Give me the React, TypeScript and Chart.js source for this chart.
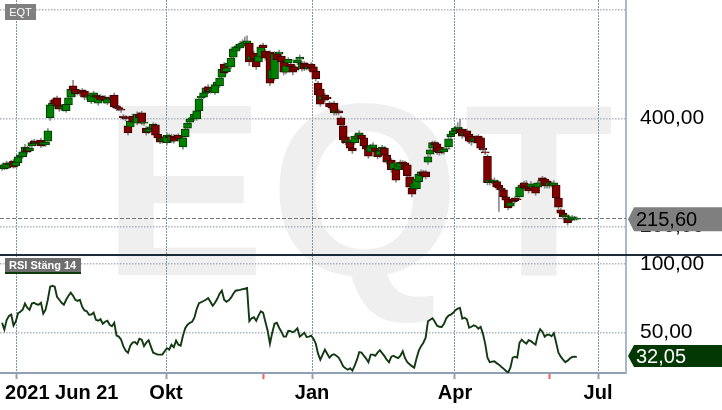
import React, { useEffect, useRef } from 'react';
import { Chart, registerables } from 'chart.js';

Chart.register(...registerables);

const symbol = 'EQT';
const rsiTitle = 'RSI Stäng 14';

const opens = [
312,307,308,316,314,321,312,318,329,329,
338,345,340,349,358,353,356,360,351,351,
358,401,423,434,438,425,419,417,414,425,
439,460,454,447,449,452,450,441,439,430,
439,443,428,441,439,439,428,434,438,443,
423,420,417,404,402,386,384,404,395,391,
408,410,391,382,375,380,380,388,371,366,
358,360,355,367,358,367,366,369,360,347,
366,382,393,399,399,399,414,438,439,447,
458,450,452,447,460,460,476,500,486,495,
495,513,524,530,530,533,537,537,539,508,
520,508,504,513,535,524,517,522,473,473,
519,519,515,504,485,502,500,495,495,502,
509,491,502,500,491,500,495,487,465,454,
434,443,439,428,426,428,410,414,401,386,
366,356,356,345,355,362,367,369,364,349,
347,338,345,345,340,332,340,345,332,319,
323,305,308,305,310,319,318,314,292,271,
270,270,283,294,301,301,319,334,345,355,
353,347,338,338,343,347,366,371,377,380,
380,380,369,377,371,367,358,358,367,364,
345,338,330,281,284,283,283,277,271,268,
255,251,238,249,253,251,255,271,281,275,
271,273,275,275,273,279,290,288,284,275,
279,275,277,253,231,225,218,216,212,214,
214,214
];

const highs = [
316,317,321,319,322,324,323,332,337,341,
352,348,349,360,361,360,359,363,359,362,
381,433,436,438,441,428,425,424,429,441,
458,470,458,453,452,455,453,445,447,446,
450,446,442,444,442,442,439,442,440,447,
426,423,420,407,405,389,398,408,401,412,
411,413,396,385,384,387,392,391,374,369,
366,368,373,371,371,370,370,372,366,367,
383,395,402,405,411,417,440,445,451,459,
462,456,460,465,471,477,495,503,497,506,
515,531,536,537,542,545,550,552,542,520,
524,511,520,536,539,527,520,525,493,523,
522,526,518,507,501,512,504,498,498,512,
517,505,505,503,498,503,498,490,468,457,
445,446,443,431,429,432,418,417,404,390,
369,364,359,348,371,371,377,372,367,352,
350,352,355,348,343,344,350,348,335,327,
326,322,311,318,323,322,321,317,295,274,
285,292,301,305,304,304,333,346,358,358,
356,350,344,347,348,366,375,381,386,392,
398,383,377,380,374,370,366,368,370,367,
349,341,333,290,288,290,286,280,275,271,
258,254,248,253,256,255,277,281,284,285,
275,283,280,278,285,286,293,291,287,285,
283,285,280,256,234,228,225,219,219,221,
219,218
];

const lows = [
304,305,306,311,312,308,310,315,326,326,
335,334,337,346,349,350,351,346,348,348,
355,396,419,418,419,413,414,413,411,422,
436,449,440,443,442,443,434,434,435,427,
435,435,424,430,434,428,425,431,431,418,
414,414,411,397,395,369,380,385,392,388,
396,388,387,369,372,376,377,366,360,353,
354,357,351,361,355,354,361,358,357,343,
362,379,390,396,396,396,411,434,436,444,
445,446,449,444,457,457,472,480,482,491,
492,510,520,526,527,530,534,533,497,505,
505,490,500,510,526,507,511,460,468,470,
504,515,500,480,482,498,491,480,486,499,
506,487,488,489,488,489,481,469,440,422,
430,430,433,417,414,406,406,406,384,353,
351,352,341,335,352,359,363,358,345,339,
326,335,341,336,325,328,337,328,315,315,
300,301,282,301,306,312,301,290,268,255,
266,267,279,290,291,288,315,330,341,347,
334,332,334,334,339,344,362,367,373,376,
369,363,365,363,353,350,354,354,351,341,
338,333,277,277,279,278,268,228,264,251,
245,231,234,242,244,246,251,267,267,267,
262,269,271,258,269,275,280,271,271,271,
273,271,249,232,221,214,215,203,208,211,
211,212
];

const closes = [
307,314,318,314,318,310,319,329,332,338,
347,338,345,355,353,356,355,349,356,356,
377,425,428,426,423,417,421,419,426,438,
454,452,445,449,447,447,439,439,443,443,
447,439,439,434,438,432,436,438,436,421,
419,418,415,401,399,373,395,393,397,408,
401,391,393,373,380,384,389,369,364,356,
362,364,369,364,367,358,364,362,362,364,
380,391,399,401,408,414,436,441,447,456,
449,452,456,462,467,474,491,484,493,502,
511,528,532,533,537,539,541,543,504,515,
509,495,515,532,530,511,515,465,489,519,
508,522,504,485,497,509,495,485,489,508,
513,502,491,493,495,493,485,473,443,426,
441,434,436,421,419,410,414,410,388,360,
355,360,345,340,367,367,373,362,349,343,
330,349,351,340,329,340,347,332,319,323,
305,318,286,314,319,316,305,294,273,260,
281,288,297,301,295,292,329,342,355,351,
338,336,340,343,344,362,371,377,382,384,
373,367,373,367,358,356,362,364,355,345,
342,336,281,286,283,286,273,271,268,255,
249,235,244,246,248,250,273,277,271,271,
266,279,276,262,281,281,284,275,275,281,
277,281,253,236,225,218,222,207,216,218,
216,215.6
];

const rsi14 = [
57,52,59,62,63,55,58,64,65,66.5,
71,68,66.5,71,71.6,70.5,70.2,71.6,63.6,66.5,
74,83.3,84,83.3,76,73.8,71.6,70.2,73.8,76.7,
79,76.7,73.8,73,73.8,68.7,66,65.4,62.9,63,
64.4,59.2,58.5,59.6,56.3,57.8,58.5,55.6,54.5,57,
47.6,46.9,44.7,39.8,36.7,35.2,40.3,42.5,42.9,41.4,
45.4,44.7,40,42.5,44.3,39.6,35.2,34.5,33.8,33.8,
33.8,36.3,38.5,37.4,41,39.2,44,41,40.3,47.6,
53,55.6,57,57.7,60.7,67,71.3,72,72.9,73.8,
75,72.3,69.4,71.6,74.5,78.2,80.4,73.8,72.3,73.4,
75.3,78.2,80.4,80.7,81,81.5,81.8,82.3,58.1,60.3,
61,58.5,62.2,65.4,64.4,57.8,51.2,41.8,49.8,56.3,
57,53.4,50.5,46.9,46.9,51.2,50.9,50.1,51.2,53,
46.9,48.3,49.8,46.7,46.9,47.6,45.4,41.8,34.5,30.1,
33.8,37.4,34.5,31.6,33.4,34.1,33,31.6,28.7,25.2,
23.9,22.8,23.9,22.1,25.8,30.1,35.6,35.2,33,30.9,
28.3,33.8,33.8,33,35.2,37,34.9,32.7,30.1,28.3,
32.3,33,31.9,31.2,33,36.3,31.2,28.3,26.8,25.4,
24.3,30.9,36.7,40,42.5,46.1,58.1,59.2,60.3,57.8,
54.9,54.1,53.9,56.3,60.3,62.2,62.9,64.3,66.2,67.3,
67.8,60,60.7,59.6,53.4,54.1,55.2,54.5,52.7,54.1,
49.1,41.8,31.6,28.3,28.7,28.9,27.6,26.5,25,23.6,
22.1,20.7,24.3,31.6,32.3,31.6,42.5,44.7,42.9,41.8,
44.3,43.6,42.2,41,48.3,52.3,50.5,46.9,48.3,48.3,
47.2,49.4,42.5,35.2,32.3,30.1,28.3,29.4,30.9,32.1,
32.3,32.05
];

// x-axis: trading-day index of month boundaries and event markers
const monthTickIndex = [6.1, 71.6, 135.4, 197.8, 260.3];
const monthTickLabels = ['', 'Okt', 'Jan', 'Apr', 'Jul'];
const eventTickIndex = [114, 239.3];
const yearLabelIndex = 1.3;
const yearLabel = '2021 Jun 21';

const priceGridValues = [200, 400, 600];
const priceLabelValues = [200, 400];
const rsiGridValues = [50, 100];

const X_MIN = -0.9;
const X_MAX = 272.5;
const PRICE_MIN = -70;
const PRICE_MAX = 618.3;
const RSI_MIN = 20.4;
const RSI_MAX = 292.3;
const PANEL_SPLIT = 255;

const FONT = '"Liberation Sans", Arial, sans-serif';
const fmt = (v: number) => v.toFixed(2).replace('.', ',');

export default function App() {
  const ref = useRef<HTMLCanvasElement | null>(null);

  useEffect(() => {
    const canvas = ref.current;
    if (!canvas) return;
    Chart.defaults.font.family = FONT;
    const lastClose = closes[closes.length - 1];
    const lastRsi = rsi14[rsi14.length - 1];
    const up = closes.map((c, i) => c >= opens[i]);
    const isEvent = (v: any) => eventTickIndex.includes(v);
    const xTicks = [...monthTickIndex, ...eventTickIndex].sort((a, b) => a - b);

    const drawTag = (ctx: CanvasRenderingContext2D, x0: number, yc: number, half: number, text: string, fill: string, color: string) => {
      ctx.beginPath();
      ctx.moveTo(x0 + 2, yc);
      ctx.lineTo(x0 + 8, yc - half);
      ctx.lineTo(722, yc - half);
      ctx.lineTo(722, yc + half);
      ctx.lineTo(x0 + 8, yc + half);
      ctx.closePath();
      ctx.fillStyle = fill;
      ctx.fill();
      ctx.fillStyle = color;
      ctx.font = `20px ${FONT}`;
      ctx.textAlign = 'left';
      ctx.textBaseline = 'middle';
      ctx.fillText(text, x0 + 10, yc + 1);
    };

    const decor = {
      id: 'decor',
      afterLayout(chart: any) {
        const rs = chart.scales.rsi;
        if (rs) rs.right = chart.width;
        const x2 = chart.scales.x2;
        if (x2) x2.bottom = chart.height;
      },
      beforeDraw(chart: any) {
        const ctx = chart.ctx;
        ctx.save();
        ctx.fillStyle = '#ffffff';
        ctx.fillRect(0, 0, chart.width, chart.height);
        ctx.fillStyle = '#efefef';
        ctx.font = `bold 245px ${FONT}`;
        (ctx as any).letterSpacing = '4px';
        ctx.textBaseline = 'alphabetic';
        ctx.textAlign = 'left';
        ctx.fillText(symbol, 102, 274.5);
        (ctx as any).letterSpacing = '0px';
        ctx.restore();
      },
      beforeDatasetsDraw(chart: any) {
        const { ctx, chartArea, scales } = chart;
        const y = Math.round(scales.y.getPixelForValue(lastClose)) + 0.5;
        ctx.save();
        ctx.strokeStyle = '#777777';
        ctx.lineWidth = 1;
        ctx.setLineDash([4, 2]);
        ctx.beginPath();
        ctx.moveTo(chartArea.left, y);
        ctx.lineTo(chartArea.right, y);
        ctx.stroke();
        ctx.restore();
      },
      afterDraw(chart: any) {
        const { ctx, chartArea, scales } = chart;
        ctx.save();
        ctx.fillStyle = '#1b2b38';
        ctx.fillRect(0, PANEL_SPLIT - 1, chart.width, 2);
        ctx.fillStyle = '#808080';
        ctx.fillRect(5, 4, 31, 16);
        ctx.fillStyle = '#ffffff';
        ctx.font = `11px ${FONT}`;
        ctx.textAlign = 'center';
        ctx.textBaseline = 'middle';
        ctx.fillText(symbol, 20.5, 12.5);
        ctx.fillStyle = '#6e6e6e';
        ctx.fillRect(5, 258, 76, 15);
        ctx.fillStyle = '#0b3b0b';
        ctx.fillRect(5, 272, 76, 2);
        ctx.fillStyle = '#ffffff';
        ctx.font = `bold 11px ${FONT}`;
        ctx.textAlign = 'left';
        ctx.fillText(rsiTitle, 9, 265.5);
        drawTag(ctx, chartArea.right, scales.y.getPixelForValue(lastClose) + 1, 12, fmt(lastClose), '#7f7f7f', '#000000');
        drawTag(ctx, chartArea.right, scales.rsi.getPixelForValue(lastRsi) - 1, 11, fmt(lastRsi), '#033803', '#ffffff');
        ctx.restore();
      },
    };

    const hGrid = { color: '#adb6bf', lineWidth: 1.5, drawTicks: false };

    const chart = new Chart(canvas, {
      type: 'bar',
      data: {
        datasets: [
          {
            type: 'line',
            label: 'RSI',
            data: rsi14.map((v, i) => ({ x: i, y: v })),
            xAxisID: 'x',
            yAxisID: 'rsi',
            borderColor: '#123a12',
            borderWidth: 1.9,
            pointRadius: 0,
            tension: 0,
            fill: false,
            order: 0,
          } as any,
          {
            type: 'bar',
            label: 'body',
            data: opens.map((o, i) => ({ x: i, y: [o, closes[i]] })),
            xAxisID: 'x',
            yAxisID: 'y',
            backgroundColor: up.map((u) => (u ? '#008000' : '#800000')),
            borderColor: up.map((u) => (u ? '#003c00' : '#3c0000')),
            borderWidth: 1,
            borderSkipped: false,
            barThickness: 8,
            grouped: false,
            order: 1,
          } as any,
          {
            type: 'bar',
            label: 'wick',
            data: lows.map((l, i) => ({ x: i, y: [l, highs[i]] })),
            xAxisID: 'x',
            yAxisID: 'y',
            backgroundColor: '#8a8a8a',
            borderWidth: 0,
            barThickness: 1,
            grouped: false,
            order: 2,
          } as any,
        ],
      },
      options: {
        animation: false,
        responsive: false,
        maintainAspectRatio: false,
        events: [],
        layout: { padding: 0, autoPadding: false } as any,
        plugins: { legend: { display: false }, tooltip: { enabled: false } },
        scales: {
          x: {
            type: 'linear',
            position: 'bottom',
            min: X_MIN,
            max: X_MAX,
            offset: false,
            weight: 1,
            afterBuildTicks: (s: any) => {
              s.ticks = xTicks.map((v) => ({ value: v }));
            },
            afterFit: (s: any) => {
              s.height = 37;
              s.paddingLeft = 0;
              s.paddingRight = 0;
            },
            grid: {
              offset: false,
              drawOnChartArea: true,
              drawTicks: true,
              tickLength: 6,
              lineWidth: 1,
              color: (c: any) => (isEvent(c.tick?.value) ? 'rgba(0,0,0,0)' : '#8293a3'),
              tickColor: (c: any) => (isEvent(c.tick?.value) ? '#ff5a5a' : '#8fa1b3'),
              tickWidth: 2,
            },
            border: { display: true, color: '#8fa1b3', width: 2, dash: [2, 1] },
            ticks: {
              autoSkip: false,
              maxRotation: 0,
              minRotation: 0,
              padding: 2,
              color: '#000000',
              font: { family: FONT, size: 20, weight: 'bold' },
              callback: (v: any) => {
                const k = monthTickIndex.indexOf(v);
                return k >= 0 ? monthTickLabels[k] : '';
              },
            },
          } as any,
          x2: {
            type: 'linear',
            position: 'bottom',
            axis: 'x',
            min: X_MIN,
            max: X_MAX,
            offset: false,
            weight: 0,
            afterBuildTicks: (s: any) => {
              s.ticks = [{ value: yearLabelIndex }];
            },
            afterFit: (s: any) => {
              s.height = 0;
              s.paddingLeft = 0;
              s.paddingRight = 0;
            },
            grid: {
              display: true,
              drawOnChartArea: false,
              drawTicks: true,
              tickLength: 8,
              color: 'rgba(0,0,0,0)',
              tickColor: 'rgba(0,0,0,0)',
            },
            border: { display: false },
            ticks: {
              autoSkip: false,
              maxRotation: 0,
              minRotation: 0,
              align: 'start',
              padding: 0,
              color: '#000000',
              font: { family: FONT, size: 20, weight: 'bold' },
              callback: () => yearLabel,
            },
          } as any,
          y: {
            type: 'linear',
            position: 'right',
            min: PRICE_MIN,
            max: PRICE_MAX,
            weight: 1,
            afterBuildTicks: (s: any) => {
              s.ticks = priceGridValues.map((v) => ({ value: v }));
            },
            afterFit: (s: any) => {
              s.width = 96;
              s.paddingTop = 0;
              s.paddingBottom = 0;
            },
            grid: hGrid,
            border: { display: true, color: '#a9b9cc', width: 2, dash: [1.5, 1.5] },
            ticks: {
              padding: 14,
              color: '#000000',
              font: { family: FONT, size: 21 },
              callback: (v: any) => (priceLabelValues.includes(v) ? fmt(v) : ''),
            },
          } as any,
          rsi: {
            type: 'linear',
            position: 'right',
            axis: 'y',
            min: RSI_MIN,
            max: RSI_MAX,
            weight: 0,
            afterBuildTicks: (s: any) => {
              s.ticks = rsiGridValues.map((v) => ({ value: v }));
            },
            afterFit: (s: any) => {
              s.width = 0;
              s.paddingTop = 0;
              s.paddingBottom = 0;
            },
            grid: hGrid,
            border: { display: false, dash: [1.5, 1.5] },
            ticks: {
              padding: 14,
              color: '#000000',
              font: { family: FONT, size: 21 },
              callback: (v: any) => fmt(v),
            },
          } as any,
        },
      },
      plugins: [decor],
    });

    return () => chart.destroy();
  }, []);

  return (
    <div style={{ position: 'fixed', left: 0, top: 0, width: 722, height: 410, background: '#fff' }}>
      <canvas ref={ref} width={722} height={410} style={{ width: 722, height: 410, display: 'block' }} />
    </div>
  );
}
